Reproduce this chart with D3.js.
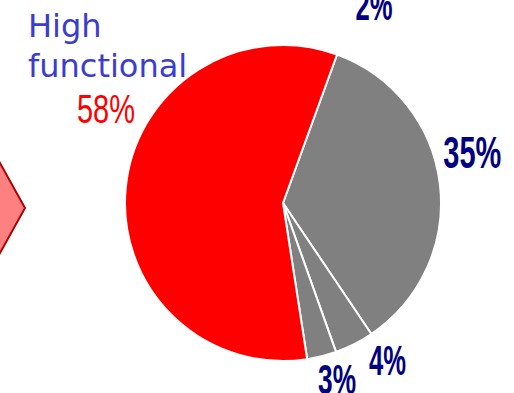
<!DOCTYPE html>
<html>
<head>
<meta charset="utf-8">
<script src="https://cdn.jsdelivr.net/npm/d3@7/dist/d3.min.js"></script>
<style>
  html, body { margin: 0; padding: 0; background: #fff; }
  svg { display: block; }
</style>
</head>
<body>
<svg id="chart" width="514" height="393"></svg>
<script>
// Share of each group, drawn clockwise from the upper right
const categories = ["Group 2", "Group 3", "Group 4", "High functional"];
const values = [35, 4, 3, 58];
const sliceColors = ["#808080", "#808080", "#808080", "#ff0000"];
// Extra small share printed above the pie
const extraLabel = "2%";

const svg = d3.select("#chart");
const cx = 283, cy = 203, radius = 158;
const deg = Math.PI / 180;

// Pointer shape at the left edge
svg.append("path")
  .attr("d", "M-20,127 L25,208 L-20,289 Z")
  .attr("fill", "#ff8080")
  .attr("stroke", "#b00000")
  .attr("stroke-width", 2);

const pie = d3.pie().sort(null).value(d => d)
  .startAngle(20 * deg).endAngle(380 * deg);
const arcs = pie(values);
const arc = d3.arc().innerRadius(0).outerRadius(radius);

const g = svg.append("g").attr("transform", `translate(${cx},${cy})`);
g.selectAll("path.slice")
  .data(arcs)
  .join("path")
  .attr("class", "slice")
  .attr("d", arc)
  .attr("fill", (d, i) => sliceColors[i])
  .attr("stroke", "#fff")
  .attr("stroke-width", 2)
  .attr("stroke-linejoin", "round");

// Percent labels placed around the rim (angle offset in degrees, distance from centre)
const labelPlace = [
  { dAngle: -8, r: 196, width: 58, size: 44, dy: 16 },
  { dAngle: -7, r: 188, width: 37, size: 43, dy: 16 },
  { dAngle: -3, r: 183, width: 38, size: 43, dy: 16 }
];
const fmt = v => v + "%";
arcs.slice(0, 3).forEach((a, i) => {
  const p = labelPlace[i];
  const mid = (a.startAngle + a.endAngle) / 2 + p.dAngle * deg;
  const x = p.r * Math.sin(mid), y = -p.r * Math.cos(mid);
  g.append("text")
    .attr("x", x).attr("y", y + p.dy)
    .attr("text-anchor", "middle")
    .attr("font-family", "'Liberation Sans Narrow', 'Liberation Sans', Arial, sans-serif")
    .attr("font-weight", "bold")
    .attr("font-size", p.size)
    .attr("textLength", p.width)
    .attr("lengthAdjust", "spacingAndGlyphs")
    .attr("fill", "#000080")
    .text(fmt(values[i]));
});

svg.append("text")
  .attr("x", 374).attr("y", 20)
  .attr("text-anchor", "middle")
  .attr("font-family", "'Liberation Sans Narrow', 'Liberation Sans', Arial, sans-serif")
  .attr("font-weight", "bold")
  .attr("font-size", 43)
  .attr("textLength", 37)
  .attr("lengthAdjust", "spacingAndGlyphs")
  .attr("fill", "#000080")
  .text(extraLabel);

// Name and share of the largest group
const nameWords = categories[3].split(" ");
svg.append("text")
  .attr("font-family", "'DejaVu Sans', Verdana, sans-serif")
  .attr("font-size", 32)
  .attr("fill", "#3c3cd0")
  .selectAll("tspan")
  .data(nameWords)
  .join("tspan")
  .attr("x", 28)
  .attr("y", (d, i) => 37 + i * 40)
  .text(d => d);

svg.append("text")
  .attr("x", 106).attr("y", 123)
  .attr("text-anchor", "middle")
  .attr("font-family", "'Liberation Sans Narrow', 'Liberation Sans', Arial, sans-serif")
  .attr("font-size", 40)
  .attr("textLength", 58)
  .attr("lengthAdjust", "spacingAndGlyphs")
  .attr("fill", "#ff0000")
  .text(fmt(values[3]));
</script>
</body>
</html>
